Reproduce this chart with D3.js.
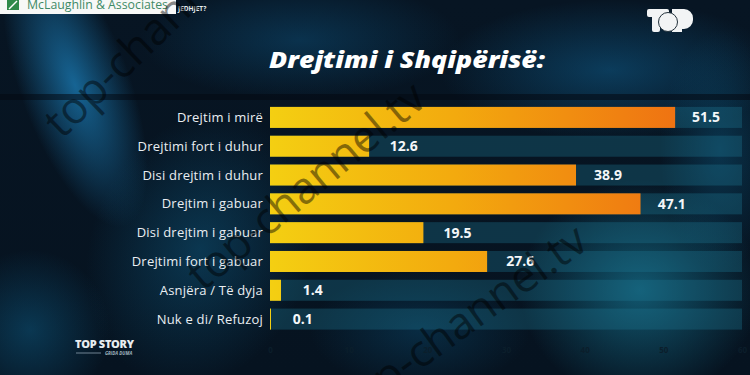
<!DOCTYPE html>
<html><head><meta charset="utf-8">
<script src="https://cdn.jsdelivr.net/npm/d3@7"></script>
<style>html,body{margin:0;padding:0;background:#06111c;overflow:hidden}svg{display:block}</style>
</head><body>
<svg id="c" width="750" height="375"></svg>
<script>
const categories = ["Drejtim i mirë","Drejtimi fort i duhur","Disi drejtim i duhur","Drejtim i gabuar","Disi drejtim i gabuar","Drejtimi fort i gabuar","Asnjëra / Të dyja","Nuk e di/ Refuzoj"];
const values = [51.5,12.6,38.9,47.1,19.5,27.6,1.4,0.1];
const valueLabels = ["51.5","12.6","38.9","47.1","19.5","27.6","1.4","0.1"];
const tickValues = [0,10,20,30,40,50,60];
const title = "Drejtimi i Shqipërisë:";

const W=750,H=375;
const svg=d3.select("#c");
const defs=svg.append("defs");

// background
const bg=defs.append("linearGradient").attr("id","bg").attr("x1",0).attr("y1",0).attr("x2",0).attr("y2",1);
bg.append("stop").attr("offset",0).attr("stop-color","#071523");
bg.append("stop").attr("offset",1).attr("stop-color","#061320");
svg.append("rect").attr("width",W).attr("height",H).attr("fill","url(#bg)");

function glow(id,cx,cy,rx,ry,color,op,rot){
  const g=defs.append("radialGradient").attr("id",id);
  g.append("stop").attr("offset",0).attr("stop-color",color).attr("stop-opacity",op);
  g.append("stop").attr("offset",1).attr("stop-color",color).attr("stop-opacity",0);
  svg.append("ellipse").attr("cx",cx).attr("cy",cy).attr("rx",rx).attr("ry",ry)
    .attr("transform",`rotate(${rot||0},${cx},${cy})`).attr("fill",`url(#${id})`);
}
glow("g1",75,85,55,150,"#1a78b0",0.8,-20);
glow("g2",300,40,160,60,"#0d4f78",0.5,0);
glow("g3",610,70,170,70,"#0f5c8a",0.55,0);
glow("g4",640,290,120,110,"#1a8fb0",0.55,0);
glow("g5",200,250,110,140,"#0f5a80",0.5,20);
glow("g6",30,330,80,80,"#0e5c84",0.5,0);
glow("g7",420,330,110,60,"#0b4a6e",0.45,0);
glow("g8",720,150,60,120,"#0d5a80",0.45,0);

// separator band
svg.append("rect").attr("x",0).attr("y",94).attr("width",W).attr("height",6).attr("fill","#030a12").attr("opacity",0.55);

// scales
const x=d3.scaleLinear().domain([0,60]).range([270,742]);
const y=d3.scaleBand().domain(categories).range([103,333.5]).paddingInner(0.27).paddingOuter(0.135);

const bgrad=defs.append("linearGradient").attr("id","bar").attr("gradientUnits","userSpaceOnUse")
  .attr("x1",x(0)).attr("x2",x(52)).attr("y1",0).attr("y2",0);
bgrad.append("stop").attr("offset",0).attr("stop-color","#f4cf12");
bgrad.append("stop").attr("offset",0.45).attr("stop-color","#f3aa0e");
bgrad.append("stop").attr("offset",1).attr("stop-color","#ef7212");

// tracks
svg.append("g").selectAll("rect").data(categories).join("rect")
  .attr("x",x(0)).attr("y",d=>y(d)).attr("width",x(60)-x(0)).attr("height",y.bandwidth())
  .attr("fill","#1d7a94").attr("opacity",0.33);

// bars
svg.append("g").selectAll("rect").data(values).join("rect")
  .attr("x",x(0)).attr("y",(d,i)=>y(categories[i])).attr("width",d=>Math.max(1,x(d)-x(0)))
  .attr("height",y.bandwidth()).attr("fill","url(#bar)");

// value labels
svg.append("g").selectAll("text").data(values).join("text")
  .attr("x",d=>x(d)+Math.max(16,22-d*0.1)).attr("y",(d,i)=>y(categories[i])+y.bandwidth()/2+5)
  .attr("fill","#f4f7f9").attr("font-family","Open Sans, sans-serif").attr("font-weight",700)
  .attr("font-size",14).text((d,i)=>valueLabels[i]);

// category labels
svg.append("g").selectAll("text").data(categories).join("text")
  .attr("x",263).attr("y",d=>y(d)+y.bandwidth()/2+4.5).attr("text-anchor","end")
  .attr("fill","#e9eef2").attr("font-family","Open Sans, sans-serif").attr("font-size",13)
  .attr("letter-spacing",0.2).text(d=>d);

// axis
const ax=svg.append("g").attr("transform","translate(0,344)")
  .call(d3.axisBottom(x).tickValues(tickValues).tickSize(0).tickFormat(d3.format("d")));
ax.select(".domain").remove();
ax.selectAll("text").attr("fill","#0b1e2b").attr("font-family","Open Sans, sans-serif")
  .attr("font-weight",700).attr("font-size",8);

// title
svg.append("text").attr("x",269).attr("y",68).attr("fill","#ffffff")
  .attr("font-family","Open Sans, sans-serif").attr("font-weight",800).attr("font-style","italic")
  .attr("font-size",22).attr("textLength",276).attr("lengthAdjust","spacingAndGlyphs").text(title);

// McLaughlin header
svg.append("rect").attr("x",0).attr("y",0).attr("width",176).attr("height",14).attr("fill","#f7f8f7");
svg.append("rect").attr("x",7).attr("y",0).attr("width",12).attr("height",10).attr("fill","#2f8a4a");
svg.append("path").attr("d","M9,9 L17,1").attr("stroke","#fff").attr("stroke-width",1.5);
svg.append("text").attr("x",27).attr("y",9).attr("fill","#3f8a66").attr("font-family","Open Sans, sans-serif")
  .attr("font-size",13).attr("textLength",141).attr("lengthAdjust","spacingAndGlyphs").text("McLaughlin & Associates");
svg.append("text").attr("x",178).attr("y",11).attr("fill","#e6ecef").attr("font-family","Open Sans, sans-serif")
  .attr("font-weight",700).attr("font-size",6.5).text("JEDHJET?");

// TOP logo
const lg=svg.append("g").attr("fill","#f2f4f5");
lg.append("rect").attr("x",647).attr("y",9).attr("width",22).attr("height",8).attr("rx",2);
lg.append("rect").attr("x",652).attr("y",9).attr("width",8).attr("height",23).attr("rx",2);
lg.append("path").attr("d","M672,9 h12 a9,9 0 0 1 9,9 v2 a9,9 0 0 1 -9,9 h-2 v3 h-10 z");
lg.append("circle").attr("cx",668).attr("cy",22).attr("r",9.5).attr("stroke","#22313b").attr("stroke-width",1);

// TOP STORY logo
svg.append("text").attr("x",75).attr("y",348).attr("fill","#e8edf0").attr("font-family","Open Sans, sans-serif")
  .attr("font-weight",800).attr("font-size",11).attr("letter-spacing",-0.3).text("TOP STORY");
svg.append("line").attr("x1",76).attr("x2",101).attr("y1",353).attr("y2",353).attr("stroke","#8aa0ad").attr("stroke-width",0.8);
svg.append("text").attr("x",105).attr("y",355).attr("fill","#9fb2bd").attr("font-family","Open Sans, sans-serif")
  .attr("font-weight",700).attr("font-style","italic").attr("font-size",4.5).text("GRIDA DUMA");

// watermarks
function wm(tx,ty,rot,txt){
  svg.append("text").attr("transform",`translate(${tx},${ty}) rotate(${rot})`)
    .attr("fill","#000").attr("opacity",0.45).attr("font-family","Open Sans, sans-serif")
    .attr("font-size",44).text(txt);
}
wm(62,140,-44,"top-channel.tv");
wm(203,292,-40,"top-channel.tv");
wm(352,420,-36,"top-channel.tv");
</script>
</body></html>
